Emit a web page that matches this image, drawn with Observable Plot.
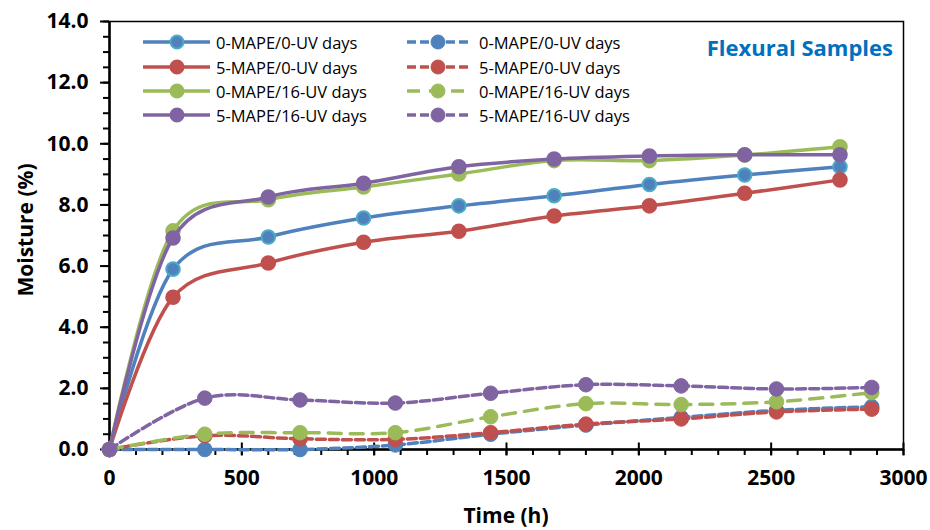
<!DOCTYPE html>
<html>
<head>
<meta charset="utf-8">
<script src="https://cdn.jsdelivr.net/npm/d3@7"></script>
<script src="https://cdn.jsdelivr.net/npm/@observablehq/plot@0.6"></script>
<style>
  html, body { margin: 0; padding: 0; background: #ffffff; }
  #chart { width: 930px; height: 530px; }
</style>
</head>
<body>
<div id="chart"></div>
<script>
// ---- Data ----
const solidTime = [0, 240, 600, 960, 1320, 1680, 2040, 2400, 2760];
const dashTime  = [0, 360, 720, 1080, 1440, 1800, 2160, 2520, 2880];
const seriesNames = ["0-MAPE/0-UV days", "5-MAPE/0-UV days", "0-MAPE/16-UV days", "5-MAPE/16-UV days"];

const solid_0MAPE_0UV  = [0, 5.90, 6.95, 7.57, 7.97, 8.30, 8.67, 8.98, 9.25];
const solid_5MAPE_0UV  = [0, 4.98, 6.10, 6.78, 7.14, 7.64, 7.97, 8.38, 8.82];
const solid_0MAPE_16UV = [0, 7.15, 8.17, 8.59, 9.01, 9.45, 9.45, 9.63, 9.90];
const solid_5MAPE_16UV = [0, 6.92, 8.26, 8.71, 9.25, 9.50, 9.60, 9.64, 9.64];

const dash_0MAPE_0UV  = [0, 0.00, 0.00, 0.15, 0.50, 0.80, 1.05, 1.28, 1.40];
const dash_5MAPE_0UV  = [0, 0.45, 0.35, 0.33, 0.55, 0.83, 1.00, 1.23, 1.32];
const dash_0MAPE_16UV = [0, 0.50, 0.55, 0.55, 1.07, 1.50, 1.47, 1.56, 1.86];
const dash_5MAPE_16UV = [0, 1.68, 1.62, 1.52, 1.84, 2.12, 2.08, 1.98, 2.03];

const xMajorTicks = [0, 500, 1000, 1500, 2000, 2500, 3000];
const xMinorTicks = d3.range(0, 3001, 100);
const yMajorTicks = [0, 2, 4, 6, 8, 10, 12, 14];
const yMinorTicks = d3.range(0, 14.01, 0.5);

// ---- Styles ----
const colors = ["#4F81BD", "#C0504D", "#9BBB59", "#8064A2"];
const solidMarkerStroke = ["#4BACC6", "#C0504D", "#9BBB59", "#8064A2"];
const dashPatterns = ["9,4", "9,4", "13,9", "9,4"];

const solidSeries = [solid_0MAPE_0UV, solid_5MAPE_0UV, solid_0MAPE_16UV, solid_5MAPE_16UV];
const dashSeries  = [dash_0MAPE_0UV, dash_5MAPE_0UV, dash_0MAPE_16UV, dash_5MAPE_16UV];

const rows = (times, vals) => times.map((t, j) => ({t, v: vals[j]}));

const seriesMarks = [];
solidSeries.forEach((vals, i) => {
  const data = rows(solidTime, vals);
  seriesMarks.push(Plot.line(data, {x: "t", y: "v", stroke: colors[i], strokeWidth: 3.5, curve: "cardinal", tension: 0}));
  seriesMarks.push(Plot.dot(data, {x: "t", y: "v", r: 6.8, fill: colors[i], stroke: solidMarkerStroke[i], strokeWidth: 2}));
});
dashSeries.forEach((vals, i) => {
  const data = rows(dashTime, vals);
  seriesMarks.push(Plot.line(data, {x: "t", y: "v", stroke: colors[i], strokeWidth: 3.5, strokeDasharray: dashPatterns[i], curve: "cardinal", tension: 0}));
  seriesMarks.push(Plot.dot(data, {x: "t", y: "v", r: 7.3, fill: colors[i], stroke: colors[i], strokeWidth: 1}));
});

const tickFont = {fontSize: 21, fontWeight: "bold", fill: "#000"};

const plot = Plot.plot({
  width: 930,
  height: 530,
  marginLeft: 109,
  marginRight: 27,
  marginTop: 21,
  marginBottom: 81,
  x: {domain: [0, 3000]},
  y: {domain: [0, 14]},
  style: {fontFamily: "'Open Sans', sans-serif", background: "#ffffff", color: "#000", overflow: "visible"},
  marks: [
    Plot.frame({stroke: "#000", strokeWidth: 1.5}),
    Plot.axisY({ticks: yMinorTicks, tickSize: 6, tickFormat: () => "", label: null, strokeWidth: 2}),
    Plot.axisY({ticks: yMajorTicks, tickSize: 9, tickPadding: 12, tickFormat: d => d.toFixed(1), label: null, strokeWidth: 2, ...tickFont}),
    Plot.axisX({ticks: xMinorTicks, tickSize: 6, tickFormat: () => "", label: null, strokeWidth: 2}),
    Plot.axisX({ticks: xMajorTicks, tickSize: 13, dy: -6.5, tickFormat: () => "", label: null, strokeWidth: 2}),
    Plot.axisX({ticks: xMajorTicks, tickSize: 0, tickPadding: 21, tickFormat: d => String(d), label: null, ...tickFont}),
    Plot.ruleX([0], {stroke: "#000", strokeWidth: 2.5}),
    Plot.ruleY([0], {stroke: "#000", strokeWidth: 2.5}),
    ...seriesMarks
  ]
});

document.getElementById("chart").appendChild(plot);

// ---- Titles and legend (appended to the SVG) ----
const svg = d3.select(plot);

svg.append("text")
  .attr("x", 506).attr("y", 515)
  .attr("text-anchor", "middle").attr("dominant-baseline", "central")
  .attr("font-family", "'Open Sans', sans-serif").attr("font-size", 21).attr("font-weight", "bold")
  .attr("fill", "#000")
  .text("Time (h)");

svg.append("text")
  .attr("transform", "translate(25,230) rotate(-90)")
  .attr("text-anchor", "middle").attr("dominant-baseline", "central")
  .attr("font-family", "'Open Sans', sans-serif").attr("font-size", 21).attr("font-weight", "bold")
  .attr("fill", "#000")
  .text("Moisture (%)");

svg.append("text")
  .attr("x", 893).attr("y", 47)
  .attr("text-anchor", "end").attr("dominant-baseline", "central")
  .attr("font-family", "'Open Sans', sans-serif").attr("font-size", 22).attr("font-weight", "bold")
  .attr("fill", "#0070C0")
  .text("Flexural Samples");

const legendRowsY = [42, 67, 91, 115];
const legendCols = [
  {x1: 143, x2: 210, mx: 177, tx: 216, dashed: false},
  {x1: 407, x2: 468, mx: 438, tx: 479, dashed: true}
];
const lg = svg.append("g").attr("font-family", "'Open Sans', sans-serif").attr("font-size", 16.5);
legendCols.forEach(col => {
  seriesNames.forEach((name, i) => {
    const y = legendRowsY[i];
    lg.append("line")
      .attr("x1", col.x1).attr("x2", col.x2).attr("y1", y).attr("y2", y)
      .attr("stroke", colors[i]).attr("stroke-width", 3.5)
      .attr("stroke-dasharray", col.dashed ? dashPatterns[i] : null);
    lg.append("circle")
      .attr("cx", col.mx).attr("cy", y).attr("r", col.dashed ? 7 : 6.5)
      .attr("fill", colors[i])
      .attr("stroke", col.dashed ? colors[i] : solidMarkerStroke[i])
      .attr("stroke-width", col.dashed ? 1 : 2);
    lg.append("text")
      .attr("x", col.tx).attr("y", y)
      .attr("text-anchor", "start")
      .attr("dominant-baseline", "central")
      .attr("fill", "#000")
      .text(name);
  });
});
</script>
</body>
</html>
